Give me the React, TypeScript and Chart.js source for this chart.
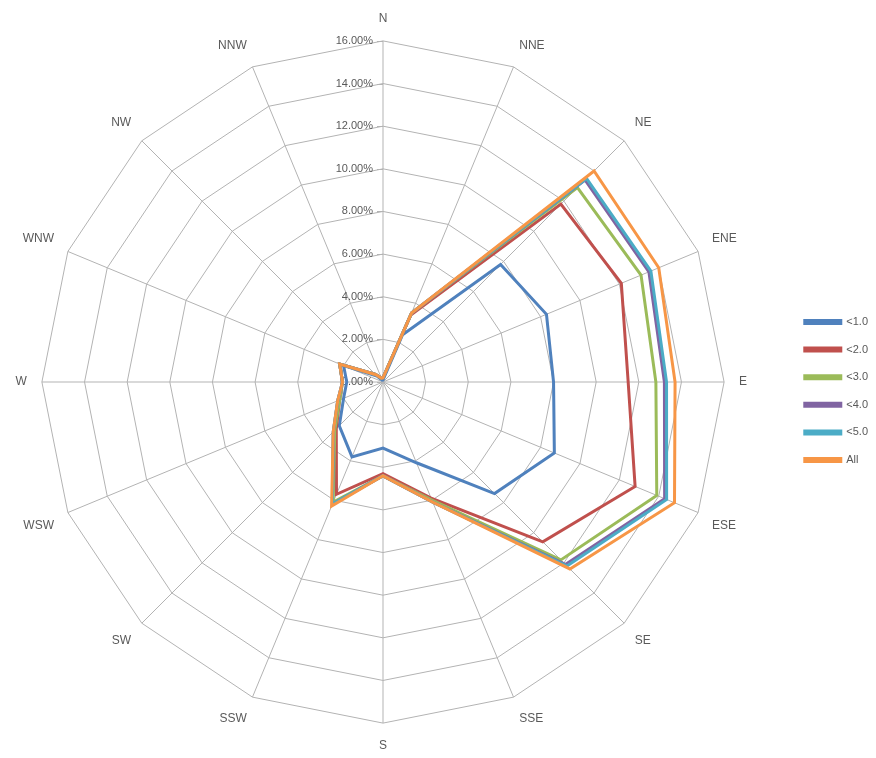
import React, { useEffect, useRef } from "react";
import { Chart, registerables } from "chart.js";

Chart.register(...registerables);

const directions = ["N", "NNE", "NE", "ENE", "E", "ESE", "SE", "SSE", "S", "SSW", "SW", "WSW", "W", "WNW", "NW", "NNW"];
const seriesNames = ["<1.0", "<2.0", "<3.0", "<4.0", "<5.0", "All"];
const seriesColors = ["#4F81BD", "#C0504D", "#9BBB59", "#8064A2", "#4BACC6", "#F79646"];

const below1 = [0.1, 2.4, 7.8, 8.3, 8.0, 8.7, 7.4, 4.1, 3.1, 3.8, 2.9, 2.0, 1.7, 2.0, 0.4, 0.1];
const below2 = [0.2, 3.4, 11.8, 12.1, 11.5, 12.8, 10.6, 5.9, 4.3, 5.7, 3.1, 2.2, 1.9, 2.2, 0.5, 0.2];
const below3 = [0.2, 3.5, 12.9, 13.1, 12.8, 13.9, 11.8, 6.0, 4.4, 6.1, 3.2, 2.2, 1.9, 2.2, 0.5, 0.2];
const below4 = [0.2, 3.5, 13.4, 13.5, 13.2, 14.3, 12.1, 6.1, 4.4, 6.2, 3.3, 2.3, 1.9, 2.2, 0.5, 0.2];
const below5 = [0.2, 3.5, 13.5, 13.6, 13.3, 14.4, 12.2, 6.1, 4.4, 6.2, 3.3, 2.3, 1.9, 2.2, 0.5, 0.2];
const allSpeeds = [0.2, 3.5, 14.0, 14.0, 13.7, 14.8, 12.4, 6.1, 4.4, 6.3, 3.3, 2.3, 1.9, 2.2, 0.5, 0.2];

const seriesValues = [below1, below2, below3, below4, below5, allSpeeds];

const axisMin = 0;
const axisMax = 16;
const axisStep = 2;

const FONT = "'Liberation Sans', Arial, sans-serif";
const TEXT_COLOR = "#595959";
const GRID_COLOR = "#b3b3b3";

const leftTicksPlugin = {
  id: "leftTicks",
  beforeDatasetsDraw(chart: any) {
    const s = chart.scales.r;
    const ctx = chart.ctx;
    ctx.save();
    ctx.font = `11px ${FONT}`;
    ctx.fillStyle = TEXT_COLOR;
    ctx.textAlign = "right";
    ctx.textBaseline = "middle";
    ctx.strokeStyle = GRID_COLOR;
    ctx.lineWidth = 1;
    s.ticks.forEach((t: any) => {
      const y = s.yCenter - s.getDistanceFromCenterForValue(t.value);
      ctx.fillText(`${Number(t.value).toFixed(2)}%`, s.xCenter - 10, y);
      ctx.beginPath();
      ctx.moveTo(s.xCenter - 6, Math.round(y) + 0.5);
      ctx.lineTo(s.xCenter, Math.round(y) + 0.5);
      ctx.stroke();
    });
    ctx.restore();
  },
};

export default function App() {
  const ref = useRef<HTMLCanvasElement | null>(null);

  useEffect(() => {
    if (!ref.current) return;
    const chart = new Chart(ref.current, {
      type: "radar",
      data: {
        labels: directions,
        datasets: seriesNames.map((name, i) => ({
          label: name,
          data: seriesValues[i],
          borderColor: seriesColors[i],
          backgroundColor: seriesColors[i],
          borderWidth: 3,
          pointRadius: 0,
          pointHoverRadius: 0,
          fill: false,
          tension: 0,
          order: seriesNames.length - i,
        })),
      },
      options: {
        animation: false,
        responsive: false,
        layout: { padding: { top: 11.5, bottom: 5.5, left: 0, right: 0 } },
        plugins: {
          legend: {
            position: "right",
            title: { display: true, text: "", padding: { top: 0, bottom: 6 }, font: { size: 10 } },
            labels: {
              boxWidth: 36,
              boxHeight: 3,
              padding: 16.6,
              color: TEXT_COLOR,
              font: { size: 11, family: FONT },
              sort: (a: any, b: any) => a.datasetIndex - b.datasetIndex,
            },
          },
          tooltip: { enabled: false },
        },
        scales: {
          r: {
            min: axisMin,
            max: axisMax,
            ticks: { stepSize: axisStep, display: false },
            grid: { color: GRID_COLOR, lineWidth: 1 },
            angleLines: { color: GRID_COLOR, lineWidth: 1 },
            pointLabels: {
              color: TEXT_COLOR,
              font: { size: 12, family: FONT },
              padding: 15,
            },
          },
        },
      },
      plugins: [leftTicksPlugin],
    });
    return () => chart.destroy();
  }, []);

  return (
    <div style={{ position: "absolute", left: 0, top: 0, width: 876, height: 758, overflow: "hidden", background: "#fff" }}>
      <div style={{ position: "absolute", left: -22, top: 0, width: 900, height: 758 }}>
        <canvas ref={ref} width={900} height={758} />
      </div>
    </div>
  );
}
